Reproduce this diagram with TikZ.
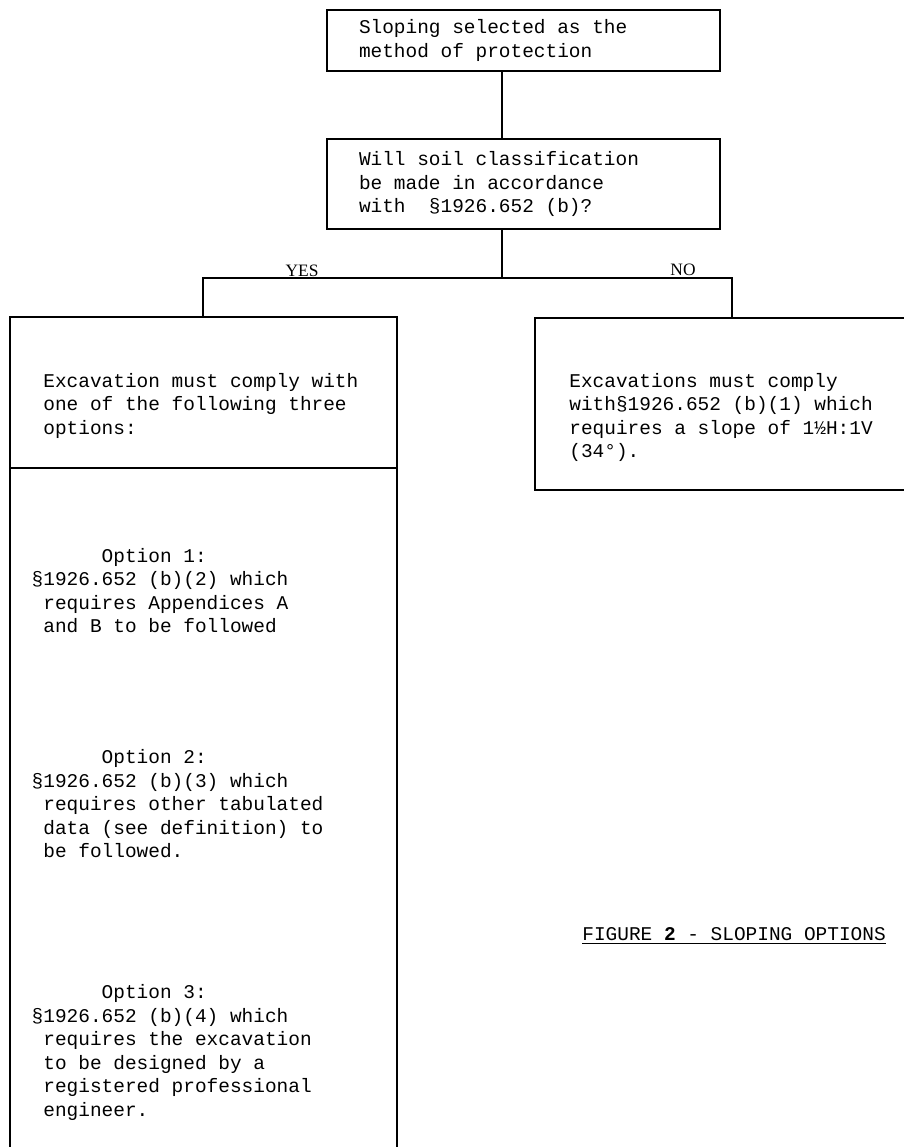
\documentclass[tikz,border=0pt]{standalone}
\usepackage{fontspec}
\setmonofont{Liberation Mono}
\newfontfamily\yesnofont{Liberation Serif}
\tikzset{
  typed/.style={font=\ttfamily\fontsize{9.72}{11.75}\selectfont, align=left, inner sep=0pt},
  boxnode/.style={typed, align=flush left, draw, line width=0.9pt, minimum width=196.5pt, text width=164.5pt, inner xsep=16pt},
  branch/.style={font=\yesnofont\fontsize{8.7}{10}\selectfont, inner sep=0pt, anchor=base},
  wire/.style={line width=0.9pt},
}
\begin{document}
\begin{tikzpicture}[x=0.5pt, y=-0.5pt]
\useasboundingbox (0,0) rectangle (904,1147);
% boxes
\node[boxnode, minimum height=30.5pt] (slope) at (523.5,40.5) {Sloping selected as the\\method of protection};
\node[boxnode, minimum height=45pt] (soil) at (523.5,184) {Will soil classification\\be made in accordance\\with~~§1926.652 (b)?};
\draw[wire] (10,1160) -- (10,317) -- (397,317) -- (397,1160);
\draw[wire] (10,468) -- (397,468);
\draw[wire] (915,318) -- (535,318) -- (535,490) -- (915,490);
% lines
\coordinate (split) at (502,278);
\coordinate (yesup) at (203,278);
\coordinate (noup) at (732,278);
\coordinate (yesin) at (203,317);
\coordinate (noin) at (732,318);
\draw[wire] (slope.south -| split) -- (soil.north -| split);
\draw[wire] (soil.south -| split) -- (split);
\draw[wire] (yesin) -- (yesup) -- (noup) -- (noin);
\node[branch] (yes) at (302,276.5) {YES};
\node[branch] (no) at (683,275) {NO};
%Text
\node[typed, anchor=west] (must) at (43,406) {\strut Excavation must comply with\\one of the following three\\options:\strut};
\node[typed, anchor=west] (opta) at (43,593) {\strut\hspace*{3em}Option 1:\\\llap{§}1926.652 (b)(2) which\\requires Appendices A\\and B to be followed\strut};
\node[typed, anchor=west] (optb) at (43,806) {\strut\hspace*{3em}Option 2:\\\llap{§}1926.652 (b)(3) which\\requires other tabulated\\data (see definition) to\\be followed.\strut};
\node[typed, anchor=west] (optc) at (43,1053) {\strut\hspace*{3em}Option 3:\\\llap{§}1926.652 (b)(4) which\\requires the excavation\\to be designed by a\\registered professional\\engineer.\strut};
\node[typed, anchor=west] (steep) at (569,418) {\strut Excavations must comply\\with§1926.652 (b)(1) which\\requires a slope of 1½H:1V\\(34°).\strut};
\node[typed, anchor=base west] (caption) at (582,940.5) {\underline{FIGURE \textbf{2} - SLOPING OPTIONS}};
\end{tikzpicture}
\end{document}
